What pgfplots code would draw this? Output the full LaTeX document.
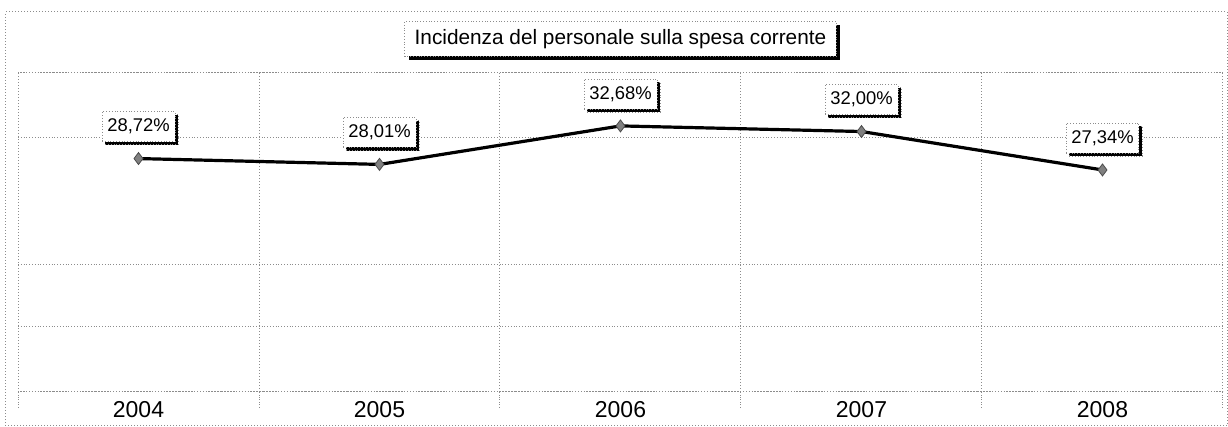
\documentclass[border=0pt]{standalone}
\usepackage{fontspec}
\setmainfont{Liberation Sans}
\usepackage{pgfplots}
\pgfplotsset{compat=1.18}
\usetikzlibrary{shadows}

\definecolor{gridgray}{RGB}{140,140,140}

\begin{document}
\begin{tikzpicture}
\path[use as bounding box] (-9pt,-17.5pt) rectangle (605pt,196pt);
\draw[gridgray, densely dotted, line width=0.5pt] (-6pt,-17pt) rectangle (604.5pt,190pt);
\begin{axis}[
    scale only axis,
    width=602.5pt,
    height=159.5pt,
    xmin=-0.5, xmax=4.5,
    ymin=0.4, ymax=39.1,
    clip=false,
    xtick={0,...,4},
    xticklabels={2004,2005,2006,2007,2008},
    minor xtick={-0.5,0.5,1.5,2.5,3.5,4.5},
    xminorgrids,
    ytick={0.4,8.3,15.9,31.3,39.1},
    yticklabels={},
    ymajorgrids,
    tick pos=bottom,
    tick align=outside,
    major tick length=0pt,
    minor tick length=7.5pt,
    minor tick style={gridgray, densely dotted, line width=0.5pt},
    axis line style={gridgray, densely dotted, line width=0.5pt},
    grid style={gridgray, densely dotted, line width=0.5pt},
    minor grid style={gridgray, densely dotted, line width=0.5pt},
    xticklabel style={font=\fontsize{11.5}{13}\selectfont, yshift=-1pt},
    /pgf/number format/assume math mode=true,
    title={Incidenza del personale sulla spesa corrente},
    title style={at={(0.5,1)}, anchor=center, yshift=11pt,
        font=\fontsize{10.4}{12}\selectfont,
        draw=gridgray, densely dotted, fill=white,
        inner xsep=5pt, minimum height=17.5pt,
        drop shadow={shadow xshift=2pt, shadow yshift=-2pt, opacity=1, fill=black}},
    point meta=y,
    nodes near coords={\pgfmathprintnumber[fixed, fixed zerofill, precision=2, use comma]{\pgfplotspointmeta}\%},
    every node near coord/.append style={anchor=center, yshift=16pt,
        font=\fontsize{9.2}{11}\selectfont, text=black,
        draw=gridgray, densely dotted, fill=white,
        inner xsep=2.6pt, minimum height=15pt,
        drop shadow={shadow xshift=1.6pt, shadow yshift=-1.6pt, opacity=1, fill=black}},
]
\addplot[black, line width=1.6pt, mark=diamond*, mark size=3pt,
    mark options={fill=gray, draw=black!70, line width=0.4pt, solid}]
coordinates {
    (0,28.72)
    (1,28.01)
    (2,32.68)
    (3,32.00)
    (4,27.34)
};
\end{axis}
\end{tikzpicture}
\end{document}
